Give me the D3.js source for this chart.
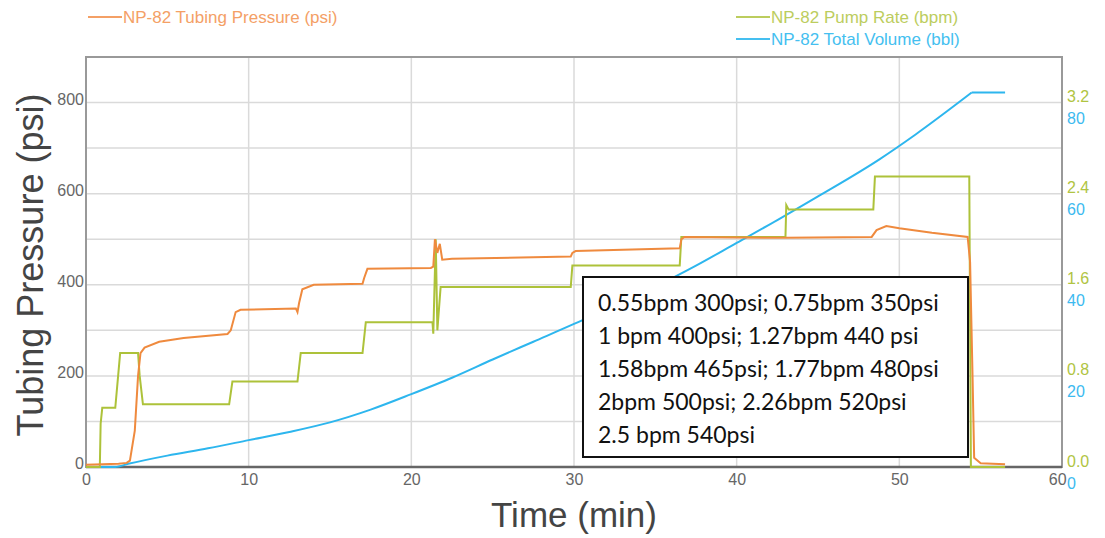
<!DOCTYPE html>
<html>
<head>
	<script src="https://cdn.jsdelivr.net/npm/d3@7/dist/d3.min.js"></script>
	<style>
		body { margin: 0; background: white; }
	</style>
</head>
<body>
	<script>
		// time (min), value pairs
		var pressure = [[0,5],[1.0,6],[2.0,7],[2.5,9],[2.7,14],[3.0,80],[3.2,200],[3.35,250],[3.6,262],[4.5,275],[6,283],[8.7,292],[8.9,300],[9.2,340],[9.5,345],[12.9,348],[13.0,340],[13.1,360],[13.3,390],[14,400],[17.0,402],[17.1,415],[17.3,435],[21.2,437],[21.35,440],[21.45,500],[21.6,470],[21.75,490],[21.9,455],[22.5,457],[29.8,462],[29.9,470],[30.1,474],[36.5,480],[36.6,500],[36.8,505],[43,503],[48.3,505],[48.6,520],[49.2,529],[50,524],[52,514],[54.2,505],[54.35,450],[54.5,200],[54.6,20],[55,8],[56.5,6]];
		var pumpRate = [[0,0],[0.85,0],[0.9,0.38],[1.0,0.52],[1.8,0.52],[2.1,1.0],[3.2,1.0],[3.3,0.8],[3.5,0.55],[8.8,0.55],[9.0,0.75],[13.0,0.75],[13.2,1.0],[17.0,1.0],[17.2,1.27],[21.3,1.27],[21.35,1.17],[21.5,2.0],[21.6,1.2],[21.8,1.58],[29.8,1.58],[29.9,1.77],[36.5,1.77],[36.6,2.02],[43.0,2.02],[43.05,2.3],[43.2,2.26],[48.4,2.26],[48.5,2.55],[54.3,2.55],[54.4,0],[56.5,0]];
		var totalVolume = [[0,0],[1.8,0],[2.6,0.7],[5,2.5],[7.5,4.1],[10,5.9],[12.5,7.7],[15,9.8],[17.5,12.6],[20,16],[22.5,19.6],[25,23.6],[27.5,27.5],[30,31.4],[32.5,35.5],[35,39.6],[37.5,44.2],[40,49.2],[42.5,54.2],[45,59.4],[48.8,67.6],[51,73],[54.45,82.2],[56.5,82.2]];

		var xTicks = [0, 10, 20, 30, 40, 50, 60];
		var pressureTicks = [0, 200, 400, 600, 800];
		var rateTicks = [0, 0.8, 1.6, 2.4, 3.2];
		var volumeTicks = [0, 20, 40, 60, 80];
		var notes = ["0.55bpm 300psi; 0.75bpm 350psi", "1 bpm 400psi; 1.27bpm 440 psi", "1.58bpm 465psi; 1.77bpm 480psi", "2bpm 500psi; 2.26bpm 520psi", "2.5 bpm 540psi"];

		var width = 1105, height = 538;
		var margin = {top: 57, right: 43, bottom: 71, left: 86};
		var orange = "#ef8a3e", green = "#adc23a", blue = "#2db6ee";
		var pumpStop = 54.45;

		var svg = d3.select("body").append("svg")
			.attr("width", width)
			.attr("height", height)
			.style("font-family", "'Liberation Sans', Arial, sans-serif");

		var x = d3.scaleLinear().domain([0, 60]).range([margin.left, width - margin.right]);
		var yP = d3.scaleLinear().domain([0, 900]).range([height - margin.bottom, margin.top]);
		var yR = d3.scaleLinear().domain([0, 3.6]).range(yP.range());
		var yV = d3.scaleLinear().domain([0, 90]).range(yP.range());

		// grid
		svg.append("g").selectAll("line").data(d3.range(100, 900, 100)).enter().append("line")
			.attr("x1", margin.left).attr("x2", width - margin.right)
			.attr("y1", function(d) { return yP(d); }).attr("y2", function(d) { return yP(d); })
			.attr("stroke", "#dadada").attr("stroke-width", 1.5);
		svg.append("g").selectAll("line").data([10, 20, 30, 40, 50]).enter().append("line")
			.attr("y1", margin.top).attr("y2", height - margin.bottom)
			.attr("x1", function(d) { return x(d); }).attr("x2", function(d) { return x(d); })
			.attr("stroke", "#dadada").attr("stroke-width", 1.5);

		// frame
		svg.append("rect")
			.attr("x", margin.left).attr("y", margin.top)
			.attr("width", width - margin.left - margin.right)
			.attr("height", height - margin.top - margin.bottom)
			.attr("fill", "none").attr("stroke", "#999").attr("stroke-width", 2);
		svg.append("line")
			.attr("x1", margin.left).attr("x2", width - margin.right)
			.attr("y1", yP(0)).attr("y2", yP(0))
			.attr("stroke", "#666").attr("stroke-width", 2.5);

		// left axis
		var left = svg.append("g")
			.attr("transform", "translate(" + (margin.left - 1) + ",0)")
			.call(d3.axisLeft(yP).tickValues(pressureTicks).tickSize(0).tickPadding(1));
		left.select(".domain").remove();
		left.selectAll("text").attr("dy", "0.1em").style("font-size", "16px").attr("fill", "#666")
			.style("font-family", "'Liberation Sans', Arial, sans-serif");

		// bottom axis
		var bottom = svg.append("g")
			.attr("transform", "translate(0," + (height - margin.bottom) + ")")
			.call(d3.axisBottom(x).tickValues(xTicks).tickSize(0).tickPadding(7));
		bottom.select(".domain").remove();
		bottom.selectAll("text").style("font-size", "16px").attr("fill", "#666")
			.style("font-family", "'Liberation Sans', Arial, sans-serif")
			.attr("dx", function(d) { return d === 60 ? "-0.3em" : 0; });

		// right labels
		svg.append("g").selectAll("text").data(rateTicks).enter().append("text")
			.attr("x", width - margin.right + 5)
			.attr("y", function(d) { return yR(d) - 6; })
			.attr("dy", "0.35em")
			.attr("fill", "#b0c442").style("font-size", "16px")
			.text(function(d) { return d.toFixed(1); });
		svg.append("g").selectAll("text").data(volumeTicks).enter().append("text")
			.attr("x", width - margin.right + 5)
			.attr("y", function(d) { return yV(d) + 16; })
			.attr("dy", "0.35em")
			.attr("fill", "#3cbaf0").style("font-size", "16px")
			.text(function(d) { return d; });

		// lines
		var lineP = d3.line().x(function(d) { return x(d[0]); }).y(function(d) { return yP(d[1]); });
		var lineR = d3.line().x(function(d) { return x(d[0]); }).y(function(d) { return yR(d[1]); });
		var lineV = d3.line().x(function(d) { return x(d[0]); }).y(function(d) { return yV(d[1]); }).curve(d3.curveMonotoneX);

		// volume: smooth while pumping, flat once the pump stops
		svg.append("path").datum(totalVolume.filter(function(d) { return d[0] <= pumpStop; })).attr("d", lineV)
			.attr("fill", "none").attr("stroke", blue).attr("stroke-width", 2);
		svg.append("path").datum(totalVolume.filter(function(d) { return d[0] >= pumpStop; })).attr("d", lineV)
			.attr("fill", "none").attr("stroke", blue).attr("stroke-width", 2);
		svg.append("path").datum(pumpRate).attr("d", lineR)
			.attr("fill", "none").attr("stroke", green).attr("stroke-width", 2);
		svg.append("path").datum(pressure).attr("d", lineP)
			.attr("fill", "none").attr("stroke", orange).attr("stroke-width", 2);

		// axis titles
		svg.append("text")
			.attr("transform", "translate(30," + ((margin.top + height - margin.bottom) / 2 + 3) + ") rotate(-90)")
			.attr("text-anchor", "middle")
			.attr("dy", "0.35em")
			.style("font-size", "36px").attr("fill", "#444")
			.text("Tubing Pressure (psi)");
		svg.append("text")
			.attr("x", x(30)).attr("y", 527)
			.attr("text-anchor", "middle")
			.style("font-size", "35px").attr("fill", "#444")
			.text("Time (min)");

		// legend
		var legend = [
			{name: "NP-82 Tubing Pressure (psi)", color: "#f4a066", lx: 88, ly: 17},
			{name: "NP-82 Pump Rate (bpm)", color: "#bccd5e", lx: 736, ly: 17},
			{name: "NP-82 Total Volume (bbl)", color: "#45bff0", lx: 736, ly: 39}
		];
		legend.forEach(function(l) {
			svg.append("line")
				.attr("x1", l.lx).attr("x2", l.lx + 34)
				.attr("y1", l.ly).attr("y2", l.ly)
				.attr("stroke", l.color).attr("stroke-width", 2);
			svg.append("text")
				.attr("x", l.lx + 35).attr("y", l.ly).attr("dy", "0.35em")
				.attr("fill", l.color).style("font-size", "17px")
				.text(l.name);
		});

		// annotation box
		var box = svg.append("g");
		box.append("rect")
			.attr("x", 583).attr("y", 277).attr("width", 385).attr("height", 180)
			.attr("fill", "white").attr("stroke", "#111").attr("stroke-width", 2);
		box.selectAll("text").data(notes).enter().append("text")
			.attr("x", 598)
			.attr("y", function(d, i) { return 303 + i * 33; })
			.attr("dy", "0.35em")
			.style("font-family", "Lato, 'Open Sans', sans-serif")
			.style("font-size", "23px").attr("fill", "#111")
			.text(function(d) { return d; });
	</script>
</body>
</html>
